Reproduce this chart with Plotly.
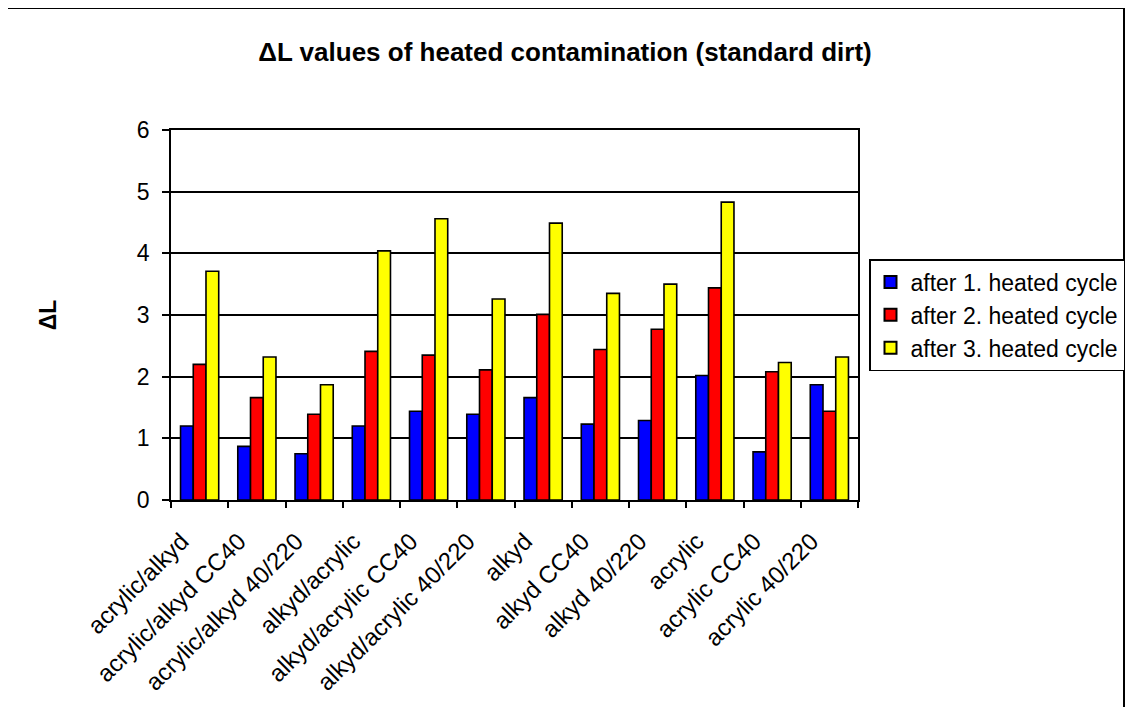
import plotly.graph_objects as go

# categories and the three heated-cycle series
categories = ['acrylic/alkyd', 'acrylic/alkyd CC40', 'acrylic/alkyd 40/220',
              'alkyd/acrylic', 'alkyd/acrylic CC40', 'alkyd/acrylic 40/220',
              'alkyd', 'alkyd CC40', 'alkyd 40/220',
              'acrylic', 'acrylic CC40', 'acrylic 40/220']
cycle1 = [1.20, 0.87, 0.75, 1.20, 1.44, 1.39, 1.66, 1.23, 1.29, 2.02, 0.78, 1.87]
cycle2 = [2.20, 1.66, 1.39, 2.41, 2.35, 2.11, 3.01, 2.44, 2.77, 3.44, 2.08, 1.44]
cycle3 = [3.71, 2.32, 1.87, 4.04, 4.56, 3.26, 4.49, 3.35, 3.50, 4.83, 2.23, 2.32]
series_names = ['after 1. heated cycle', 'after 2. heated cycle', 'after 3. heated cycle']
series_colors = ['#0000FF', '#FF0000', '#FFFF00']
y_ticks = [0, 1, 2, 3, 4, 5, 6]

FONT = 'Arial, Liberation Sans, sans-serif'

fig = go.Figure()
for name, vals, col in zip(series_names, [cycle1, cycle2, cycle3], series_colors):
    fig.add_trace(go.Bar(
        x=categories, y=vals, name=name,
        marker=dict(color=col, line=dict(color='black', width=1.6)),
    ))

# page has an 8px body margin on every side, keep the figure inside the window
OFF = 8
W, H = 1133 - 2 * OFF, 715 - 2 * OFF
# plot area on the page: x 171..858, y 130..500
L, R, T, B = 171 - OFF, 858 - OFF, 130 - OFF, 500 - OFF

def px(page_x):
    return (page_x - OFF - L) / (R - L)

def py(page_y):
    return (B - (page_y - OFF)) / (B - T)

fig.update_layout(
    width=W, height=H,
    margin=dict(l=L, r=W - R, t=T, b=H - B, pad=0, autoexpand=False),
    paper_bgcolor='white', plot_bgcolor='white',
    font=dict(family=FONT, size=24, color='black'),
    barmode='group', bargap=0.333, bargroupgap=0,
    title=dict(text='<b>ΔL values of heated contamination (standard dirt)</b>',
               x=(565 - OFF) / W, xanchor='center', y=1 - (52 - OFF) / H, yanchor='middle',
               font=dict(family=FONT, size=26, color='black')),
    xaxis=dict(range=[-0.5, 11.5], tickangle=-45, tickson='boundaries',
               ticks='outside', ticklen=6, tickcolor='black', tickwidth=1.5,
               showline=True, linecolor='black', linewidth=1.5, mirror=True,
               showgrid=False, tickfont=dict(size=24),
               ticklabelshift=-18, ticklabelstandoff=16),
    yaxis=dict(range=[0, 6], tickvals=y_ticks, ticks='outside', ticklen=7,
               tickcolor='black', tickwidth=1.5, showline=True, linecolor='black',
               linewidth=1.5, mirror=True, showgrid=True, gridcolor='black',
               gridwidth=1.5, zeroline=False, tickfont=dict(size=23),
               ticklabelstandoff=8,
               title=dict(text='<b>ΔL</b>', standoff=74, font=dict(size=23))),
    legend=dict(x=px(869), y=py(259), xanchor='left', yanchor='top',
                bordercolor='black', borderwidth=1.5, bgcolor='white',
                font=dict(size=23), tracegroupgap=0, itemsizing='constant'),
    showlegend=True,
)

# outer chart border (runs off the bottom like the reference)
fig.add_shape(type='rect', xref='paper', yref='paper',
              x0=px(7), x1=px(1124), y0=py(730), y1=py(8),
              line=dict(color='black', width=2), fillcolor='rgba(0,0,0,0)', layer='below')

fig.write_html('out.html')
